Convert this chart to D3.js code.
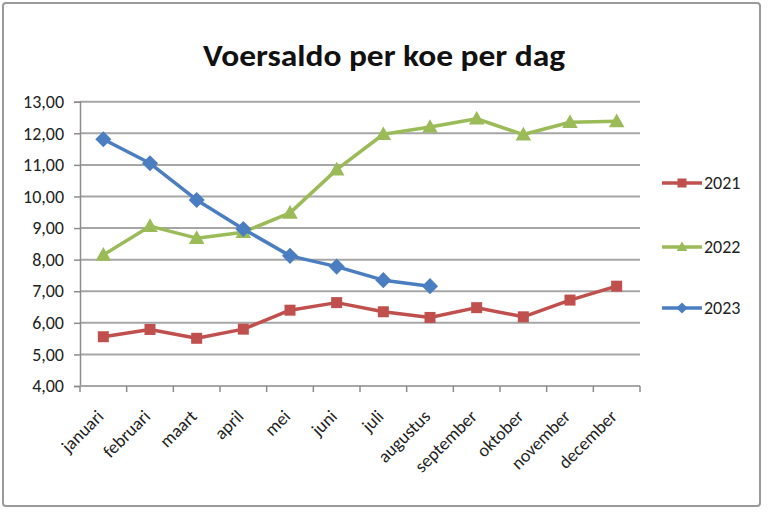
<!DOCTYPE html>
<html><head><meta charset="utf-8">
<script src="https://cdn.jsdelivr.net/npm/d3@7"></script>
<style>body{margin:0;background:#fff}svg{display:block}</style>
</head><body>
<svg id="c" width="770" height="513"></svg>
<script>
const months = ["januari","februari","maart","april","mei","juni","juli","augustus","september","oktober","november","december"];
const s2021 = [5.56,5.79,5.51,5.80,6.40,6.64,6.35,6.17,6.48,6.19,6.72,7.16];
const s2022 = [8.15,9.06,8.68,8.87,9.48,10.85,11.97,12.20,12.46,11.96,12.35,12.38];
const s2023 = [11.81,11.05,9.89,8.97,8.12,7.78,7.35,7.16];
const yTicks = [4,5,6,7,8,9,10,11,12,13];
const seriesNames = ["2021","2022","2023"];
const colors = ["#C0504D","#9BBB59","#4A7EC0"];
const title = "Voersaldo per koe per dag";

const svg = d3.select("#c");
const font = "Carlito, 'Open Sans', 'Liberation Sans', sans-serif";
const fs = 18;
svg.append("rect").attr("x",3).attr("y",3).attr("width",757).attr("height",503)
  .attr("fill","#fff").attr("stroke","#9a9a9a").attr("stroke-width",2).attr("rx",3);

const x = d3.scaleBand().domain(months).range([80,640]);
const y = d3.scaleLinear().domain([4,13]).range([386,101.7]);

// gridlines
svg.append("g").selectAll("line").data(yTicks.slice(1)).join("line")
  .attr("x1",80).attr("x2",640).attr("y1",d=>y(d)).attr("y2",d=>y(d))
  .attr("stroke","#a6a6a6").attr("stroke-width",2);

// y axis
const ya = svg.append("g").attr("transform","translate(80,0)")
  .call(d3.axisLeft(y).tickValues(yTicks).tickSize(6).tickPadding(10).tickFormat(d=>d3.format(".2f")(d).replace(".",",")));
ya.select(".domain").attr("stroke","#8c8c8c").attr("stroke-width",1.5);
ya.selectAll(".tick line").attr("stroke","#8c8c8c").attr("stroke-width",1.5);
ya.selectAll("text").attr("font-family",font).attr("font-size",fs).attr("fill","#222");

// x axis
const xa = svg.append("g").attr("transform","translate(0,386)");
xa.append("line").attr("x1",80).attr("x2",640).attr("stroke","#a6a6a6").attr("stroke-width",2);
const edges = months.map(m=>x(m)).concat([640]);
xa.selectAll("line.t").data(edges).join("line").attr("class","t")
  .attr("x1",d=>d).attr("x2",d=>d).attr("y1",0).attr("y2",6).attr("stroke","#8c8c8c").attr("stroke-width",1.5);
xa.selectAll("text").data(months).join("text")
  .attr("transform",d=>`translate(${x(d)+x.bandwidth()/2-3},${27}) rotate(-45)`)
  .attr("text-anchor","end").attr("dy","0.35em")
  .attr("font-family",font).attr("font-size",fs).attr("fill","#222").text(d=>d);

// markers
function marker(g, type, cx, cy, color, size){
  if(type===0){
    g.append("rect").attr("x",cx-size/2).attr("y",cy-size/2).attr("width",size).attr("height",size).attr("fill",color);
  } else if(type===1){
    const h=size;
    g.append("path").attr("d",`M${cx},${cy-h*0.6}L${cx+h*0.6},${cy+h*0.45}L${cx-h*0.6},${cy+h*0.45}Z`).attr("fill",color);
  } else {
    const r=size*0.62;
    g.append("path").attr("d",`M${cx},${cy-r}L${cx+r},${cy}L${cx},${cy+r}L${cx-r},${cy}Z`).attr("fill",color);
  }
}

const data = [s2021,s2022,s2023];
const line = d3.line().x((d,i)=>x(months[i])+x.bandwidth()/2).y(d=>y(d));
data.forEach((s,k)=>{
  const g = svg.append("g");
  g.append("path").datum(s).attr("d",line).attr("fill","none").attr("stroke",colors[k]).attr("stroke-width",3.5).attr("stroke-linejoin","round");
  s.forEach((v,i)=>marker(g,k,x(months[i])+x.bandwidth()/2,y(v),colors[k],k===0?11:13));
});

// legend
const ly = [183,247,308];
seriesNames.forEach((n,k)=>{
  const g = svg.append("g");
  g.append("line").attr("x1",662).attr("x2",702).attr("y1",ly[k]).attr("y2",ly[k]).attr("stroke",colors[k]).attr("stroke-width",3.5);
  marker(g,k,682,ly[k],colors[k],9);
  g.append("text").attr("x",704).attr("y",ly[k]).attr("dy","0.35em").attr("font-family",font).attr("font-size",fs).attr("fill","#222").text(n);
});

// title
svg.append("text").attr("x",384).attr("y",66).attr("text-anchor","middle")
  .attr("font-family",font).attr("font-weight","bold").attr("font-size",31).attr("fill","#111")
  .attr("textLength",362).attr("lengthAdjust","spacingAndGlyphs").text(title);
</script>
</body></html>
